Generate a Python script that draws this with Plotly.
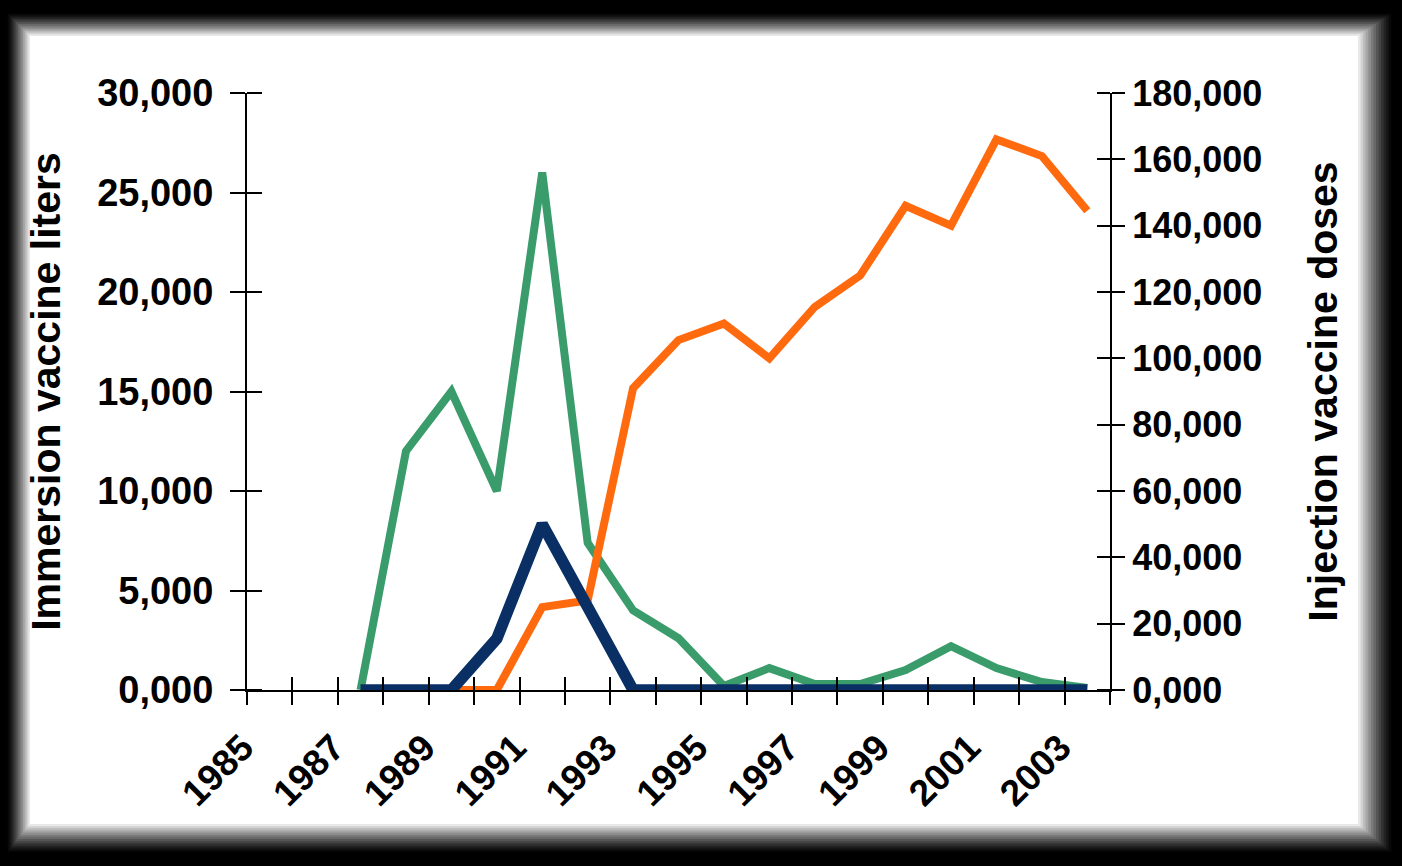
import plotly.graph_objects as go

# ---- data -------------------------------------------------------------
years = list(range(1985, 2004))
label_years = [1985, 1987, 1989, 1991, 1993, 1995, 1997, 1999, 2001, 2003]
label_text = ["1985", "1987", "1989", "1991", "1993", "1995", "1997", "1999", "2001", "2003"]

immersion_years = [1987, 1988, 1989, 1990, 1991, 1992, 1993, 1994, 1995,
                   1996, 1997, 1998, 1999, 2000, 2001, 2002, 2003]
immersion_liters = [0, 12000, 15000, 10000, 26000, 7400, 4000, 2600, 200,
                    1100, 300, 300, 1000, 2200, 1100, 400, 100]

injection_years = [1989, 1990, 1991, 1992, 1993, 1994, 1995, 1996,
                   1997, 1998, 1999, 2000, 2001, 2002, 2003]
injection_doses = [0, 0, 25000, 27000, 91000, 105500, 110500, 100000,
                   115500, 125000, 146000, 140000, 166000, 161000, 144500]

navy_years = [1987, 1988, 1989, 1990, 1991, 1992, 1993, 1994, 1995,
              1996, 1997, 1998, 1999, 2000, 2001, 2002, 2003]
navy_doses = [0, 0, 0, 15500, 50000, 25000, 0, 0, 0,
              0, 0, 0, 0, 0, 0, 0, 0]

left_tickvals = [0, 5000, 10000, 15000, 20000, 25000, 30000]
left_ticktext = ["0,000", "5,000", "10,000", "15,000", "20,000", "25,000", "30,000"]
right_tickvals = [0, 20000, 40000, 60000, 80000, 100000, 120000, 140000, 160000, 180000]
right_ticktext = ["0,000", "20,000", "40,000", "60,000", "80,000", "100,000",
                  "120,000", "140,000", "160,000", "180,000"]

GREEN = "#3a9c6b"
ORANGE = "#ff6a0f"
NAVY = "#0a2f64"

W, H = 1402, 866
ML, MR, MT, MB = 247, 292, 93, 176
PW, PH = W - ML - MR, H - MT - MB

fig = go.Figure()
fig.add_trace(go.Scatter(x=immersion_years, y=immersion_liters, mode="lines",
                         line=dict(color=GREEN, width=8), xaxis="x", yaxis="y",
                         showlegend=False))
fig.add_trace(go.Scatter(x=injection_years, y=injection_doses, mode="lines",
                         line=dict(color=ORANGE, width=8), xaxis="x", yaxis="y2",
                         showlegend=False))
fig.add_trace(go.Scatter(x=navy_years, y=navy_doses, mode="lines",
                         line=dict(color=NAVY, width=11.5), xaxis="x2", yaxis="y2",
                         showlegend=False))

left_font = dict(family="Liberation Sans, Arial", size=38, color="black", weight="bold")
right_font = dict(family="Liberation Sans, Arial", size=36, color="black", weight="bold")
x_font = dict(family="Liberation Sans, Arial", size=37, color="black", weight="bold")
titlefont = dict(family="Liberation Sans, Arial", size=41, color="black", weight="bold")
xr = [1984.5, 2003.5]
boundaries = [1984.5 + i for i in range(20)]
# minor (inside) ticks placed on the same values as the major (outside) ones
left_minor = [v + 0.01 for v in left_tickvals]
right_minor = [v + 0.01 for v in right_tickvals]

common = dict(showgrid=False, zeroline=False, showline=True, linecolor="black",
              linewidth=2, tickcolor="black", tickwidth=2)

fig.update_layout(
    width=W, height=H,
    margin=dict(l=ML, r=MR, t=MT, b=MB, autoexpand=False),
    paper_bgcolor="black", plot_bgcolor="rgba(0,0,0,0)",
    xaxis=dict(range=xr, tickmode="array", tickvals=label_years, ticktext=label_text,
               ticks="", tickangle=-45, tickfont=x_font, ticklabelstandoff=19,
               ticklabelshift=-27,
               minor=dict(tickmode="array", tickvals=boundaries, ticks="outside",
                          ticklen=13, tickwidth=2, tickcolor="black", showgrid=False),
               **common),
    xaxis2=dict(range=xr, overlaying="x", anchor="y", side="bottom", tickmode="array",
                tickvals=boundaries, ticks="inside", ticklen=13, showticklabels=False,
                **common),
    yaxis=dict(range=[0, 30000], tickmode="array", tickvals=left_tickvals,
               ticktext=left_ticktext, ticks="outside", ticklen=15, tickfont=left_font,
               ticklabelstandoff=9,
               minor=dict(tickmode="array", tickvals=left_minor, ticks="inside",
                          ticklen=15, tickwidth=2, tickcolor="black", showgrid=False),
               title=dict(text="Immersion vaccine liters", font=titlefont, standoff=24),
               **common),
    yaxis2=dict(range=[0, 180000], overlaying="y", anchor="x", side="right",
                tickmode="array", tickvals=right_tickvals, ticktext=right_ticktext,
                ticks="outside", ticklen=13, tickfont=right_font,
                minor=dict(tickmode="array", tickvals=right_minor, ticks="inside",
                           ticklen=13, tickwidth=2, tickcolor="black", showgrid=False),
                title=dict(text="Injection vaccine doses", font=titlefont, standoff=47),
                **common),
)

# soft-edged white panel on black background
def px_x(px):
    return (px - ML) / PW

def px_y(py):
    return (MT + PH - py) / PH

outer = (6, 12, 1394, 854)
inner = (30, 36, 1358, 824)
N = 14
for i in range(N):
    t = (i + 1) / N
    x0 = outer[0] + (inner[0] - outer[0]) * t
    y0 = outer[1] + (inner[1] - outer[1]) * t
    x1 = outer[2] + (inner[2] - outer[2]) * t
    y1 = outer[3] + (inner[3] - outer[3]) * t
    g = int(round(255 * (t ** 1.3)))
    fig.add_shape(type="rect", xref="paper", yref="paper",
                  x0=px_x(x0), x1=px_x(x1), y0=px_y(y1), y1=px_y(y0),
                  line=dict(width=0), fillcolor=f"rgb({g},{g},{g})", layer="below")

fig.write_html("out.html", config={"displayModeBar": False},
               post_script="document.body.style.margin='0';document.body.style.overflow='hidden';")
